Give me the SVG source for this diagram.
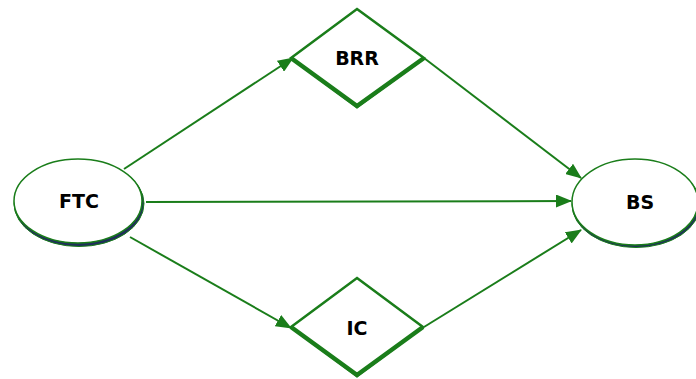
<svg xmlns="http://www.w3.org/2000/svg" width="696" height="379" viewBox="0 0 696 379">
  <style>
    .lbl { font-family: "DejaVu Sans", "Liberation Sans", sans-serif; font-weight: bold; font-size: 19px; fill: #000; text-anchor: middle; dominant-baseline: central; }
    .ell { fill: #fff; stroke: #1a7d1a; stroke-width: 1.5; }
    .sh { fill: #1f2f5a; stroke: #1a7d1a; stroke-width: 1; }
    .dia { fill: #fff; stroke: #1a7d1a; stroke-width: 2.5; stroke-linejoin: miter; }
    .dsh { fill: none; stroke: #1a7d1a; stroke-width: 4.5; stroke-linejoin: miter; }
    .edge { stroke: #1a7d1a; stroke-width: 2; fill: none; marker-end: url(#arr); }
  </style>
  <defs>
    <marker id="arr" markerWidth="16" markerHeight="13" refX="15" refY="6.5" orient="auto" markerUnits="userSpaceOnUse">
      <path d="M0,0 L16,6.5 L0,13 Z" fill="#1a7d1a"/>
    </marker>
  </defs>
  <rect width="696" height="379" fill="#fff"/>

  <g id="connectors">
    <line class="edge" x1="124" y1="169" x2="293" y2="58"/>
    <line class="edge" x1="146" y1="202" x2="571" y2="201"/>
    <line class="edge" x1="130" y1="237" x2="291" y2="328"/>
    <line class="edge" x1="424" y1="58" x2="581" y2="178"/>
    <line class="edge" x1="424" y1="327" x2="581" y2="230"/>
  </g>

  <g id="FTC">
    <ellipse class="sh" cx="79" cy="203.5" rx="65" ry="43"/>
    <ellipse class="ell" cx="78" cy="201" rx="64" ry="42"/>
    <text class="lbl" x="79" y="201">FTC</text>
  </g>

  <g id="BS">
    <ellipse class="sh" cx="636" cy="204.5" rx="64" ry="43"/>
    <ellipse class="ell" cx="635" cy="202" rx="63" ry="43"/>
    <text class="lbl" x="640" y="202">BS</text>
  </g>

  <g id="BRR">
    <polygon class="dia" points="357,9 424,58 357,107 291,58"/>
    <polyline class="dsh" points="291,58 357,106 424,58"/>
    <text class="lbl" x="357" y="58">BRR</text>
  </g>

  <g id="IC">
    <polygon class="dia" points="357,278 423,327 357,376 291,327"/>
    <polyline class="dsh" points="291,327 357,375 423,327"/>
    <text class="lbl" x="357" y="328">IC</text>
  </g>
</svg>
